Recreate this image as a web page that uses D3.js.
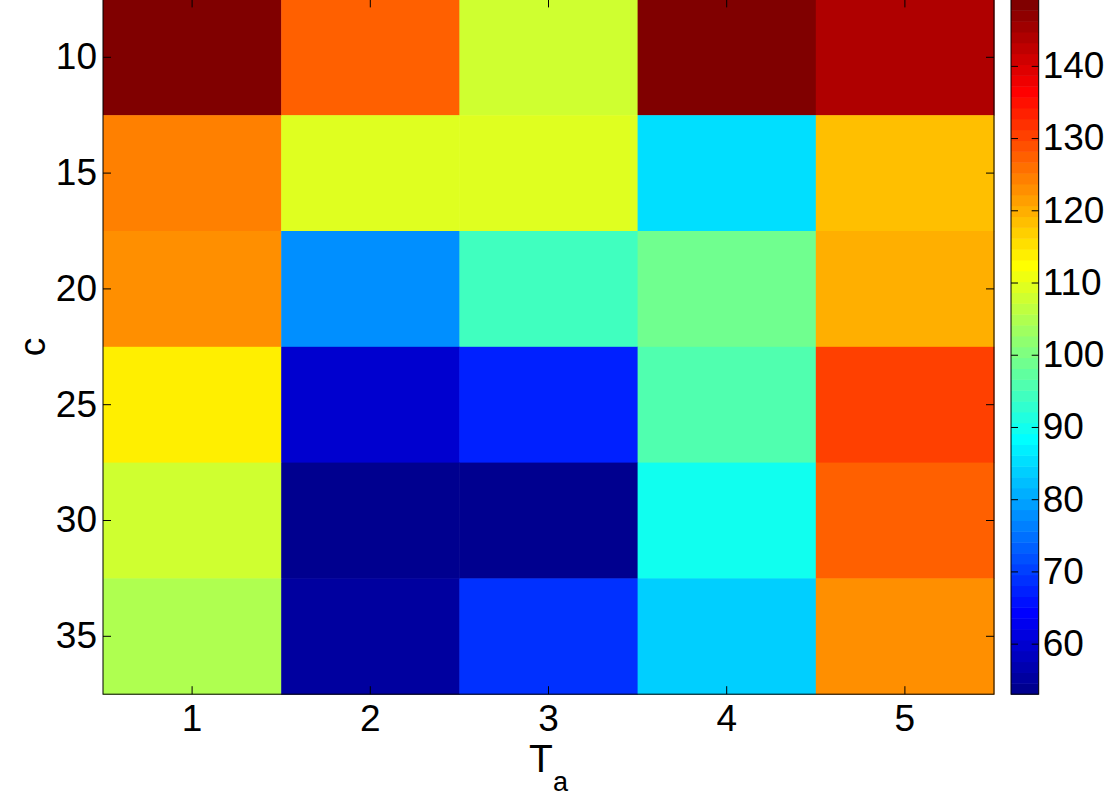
<!DOCTYPE html>
<meta charset="utf-8">
<html lang="en">
  <head>
    <style>
      body { margin: 0; background: #fff; }
      text { font-family: "Liberation Sans", Arial, Helvetica, sans-serif; fill: #000; }
      .axis text { font-size: 37px; }
      .axis line, .axis path { stroke: #000; stroke-width: 1px; }
    </style>
  </head>
  <body>
    <script src="https://cdn.jsdelivr.net/npm/d3@7"></script>
    <svg></svg>
    <script>

      // T_a across, c down
      var taValues = [1, 2, 3, 4, 5];
      var cValues = [10, 15, 20, 25, 30, 35];

      // one array per row of c
      var row10 = [149.2, 127.4, 107.9, 148.8, 143.9];
      var row15 = [124.4, 109.4, 109.4, 85.3, 118.4];
      var row20 = [122.9, 77.8, 94.3, 98.8, 119.9];
      var row25 = [113.9, 59.8, 67.3, 95.8, 130.4];
      var row30 = [107.9, 53.0, 53.2, 89.8, 127.4];
      var row35 = [104.9, 55.3, 68.8, 83.8, 122.9];

      var colorTicks = [60, 70, 80, 90, 100, 110, 120, 130, 140];

      var rows = [row10, row15, row20, row25, row30, row35];
      var cells = [];
      rows.forEach(function(r, i) {
        r.forEach(function(v, j) {
          cells.push({ c: cValues[i], ta: taValues[j], v: v });
        });
      });

      // matlab jet(64)
      function jet(m) {
        var n = Math.ceil(m / 4);
        var u = [];
        for (var i = 1; i <= n; i++) u.push(i / n);
        for (var i = 1; i < n; i++) u.push(1);
        for (var i = n; i >= 1; i--) u.push(i / n);
        var g0 = Math.ceil(n / 2) - (m % 4 == 1 ? 1 : 0);
        var out = [];
        for (var k = 1; k <= m; k++) {
          var gi = k - g0, ri = k - g0 - n, bi = k - g0 + n;
          var r = (ri >= 1 && ri <= u.length) ? u[ri - 1] : 0;
          var g = (gi >= 1 && gi <= u.length) ? u[gi - 1] : 0;
          var b = (bi >= 1 && bi <= u.length) ? u[bi - 1] : 0;
          out.push(d3.rgb(Math.round(r * 255), Math.round(g * 255), Math.round(b * 255)).formatHex());
        }
        return out;
      }
      var palette = jet(64);

      var width = 1108, height = 800;
      var plotLeft = 103, plotRight = 994, plotTop = -0.6, plotBottom = 694.2;
      var cbLeft = 1011, cbRight = 1038.7;

      var svg = d3.select("svg")
        .attr("width", width)
        .attr("height", height);

      svg.append("rect")
        .attr("width", width).attr("height", height)
        .attr("fill", "#fff");

      var x = d3.scaleBand().domain(taValues).range([plotLeft, plotRight]);
      var y = d3.scaleBand().domain(cValues).range([plotTop, plotBottom]);

      var extent = d3.extent(cells, function(d) { return d.v; });
      var color = d3.scaleQuantize().domain(extent).range(palette);

      svg.append("g").selectAll("rect")
        .data(cells)
        .enter()
        .append("rect")
        .attr("x", function(d) { return x(d.ta); })
        .attr("y", function(d) { return y(d.c); })
        .attr("width", x.bandwidth() + 0.5)
        .attr("height", y.bandwidth() + 0.5)
        .attr("fill", function(d) { return color(d.v); });

      // axes, ticks pointing inward
      svg.append("g").attr("class", "axis")
        .attr("transform", "translate(0," + plotBottom + ")")
        .call(d3.axisBottom(x).tickSizeInner(-8).tickSizeOuter(0).tickPadding(11));

      svg.append("g").attr("class", "axis")
        .attr("transform", "translate(0," + plotTop + ")")
        .call(d3.axisTop(x).tickSizeInner(-8).tickSizeOuter(0).tickFormat(""));

      svg.append("g").attr("class", "axis")
        .attr("transform", "translate(" + plotLeft + ",0)")
        .call(d3.axisLeft(y).tickSizeInner(-8).tickSizeOuter(0).tickPadding(6));

      svg.append("g").attr("class", "axis")
        .attr("transform", "translate(" + plotRight + ",0)")
        .call(d3.axisRight(y).tickSizeInner(-8).tickSizeOuter(0).tickFormat(""));

      svg.selectAll(".axis .domain").remove();

      svg.append("rect")
        .attr("x", plotLeft).attr("y", plotTop)
        .attr("width", plotRight - plotLeft).attr("height", plotBottom - plotTop)
        .attr("fill", "none").attr("stroke", "#000");

      // axis labels
      svg.append("text")
        .attr("transform", "translate(45,347) rotate(-90)")
        .attr("text-anchor", "middle")
        .style("font-size", "37px")
        .text("c");

      var xl = svg.append("text")
        .attr("x", (plotLeft + plotRight) / 2)
        .attr("y", 772)
        .attr("text-anchor", "middle")
        .style("font-size", "39px");
      xl.append("tspan").text("T");
      xl.append("tspan").attr("dy", 19).style("font-size", "27px").text("a");

      // colorbar
      var cb = d3.scaleLinear().domain(extent).range([plotBottom, plotTop]);
      var step = (extent[1] - extent[0]) / palette.length;

      svg.append("g").selectAll("rect")
        .data(palette)
        .enter()
        .append("rect")
        .attr("x", cbLeft)
        .attr("width", cbRight - cbLeft)
        .attr("y", function(d, i) { return cb(extent[0] + (i + 1) * step); })
        .attr("height", function(d, i) { return cb(extent[0] + i * step) - cb(extent[0] + (i + 1) * step) + 0.5; })
        .attr("fill", function(d) { return d; });

      svg.append("g").attr("class", "axis")
        .attr("transform", "translate(" + cbRight + ",0)")
        .call(d3.axisRight(cb).tickValues(colorTicks).tickSizeInner(-7).tickSizeOuter(0).tickPadding(4));

      svg.append("g").attr("class", "axis")
        .attr("transform", "translate(" + cbLeft + ",0)")
        .call(d3.axisLeft(cb).tickValues(colorTicks).tickSizeInner(-7).tickSizeOuter(0).tickFormat(""));

      svg.selectAll(".axis .domain").remove();

      svg.append("rect")
        .attr("x", cbLeft).attr("y", plotTop)
        .attr("width", cbRight - cbLeft).attr("height", plotBottom - plotTop)
        .attr("fill", "none").attr("stroke", "#000");

    </script>
  </body>
</html>
